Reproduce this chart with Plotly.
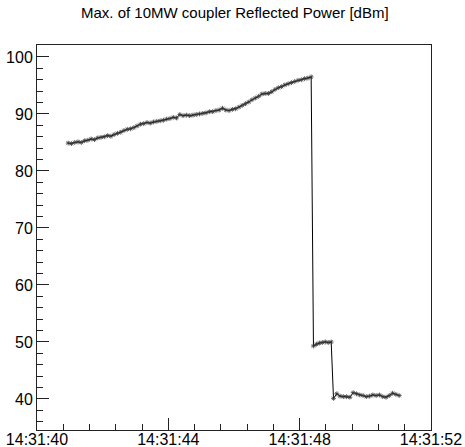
import plotly.graph_objects as go

# seconds after 14:31:40 for every sample
t_sec = [
    40.95, 41.05, 41.15, 41.25, 41.35, 41.45, 41.55, 41.65, 41.75, 41.85,
    41.95, 42.05, 42.15, 42.25, 42.35, 42.45, 42.55, 42.65, 42.75, 42.85,
    42.95, 43.05, 43.15, 43.25, 43.35, 43.45, 43.55, 43.65, 43.75, 43.85,
    43.95, 44.05, 44.15, 44.25, 44.35, 44.45, 44.55, 44.65, 44.75, 44.85,
    44.95, 45.05, 45.15, 45.25, 45.35, 45.45, 45.55, 45.65, 45.75, 45.85,
    45.95, 46.05, 46.15, 46.25, 46.35, 46.45, 46.55, 46.65, 46.75, 46.85,
    46.95, 47.05, 47.15, 47.25, 47.35, 47.45, 47.55, 47.65, 47.75, 47.85,
    47.95, 48.05, 48.15, 48.25, 48.35,
    48.42, 48.51, 48.60, 48.69, 48.78, 48.87, 48.96,
    49.03, 49.13, 49.23, 49.33, 49.43, 49.53, 49.63, 49.73, 49.83, 49.93,
    50.03, 50.13, 50.23, 50.33, 50.43, 50.53, 50.63, 50.73, 50.83, 50.93,
    51.03,
]

power_dbm = [
    84.9, 84.8, 85.0, 85.1, 85.0, 85.3, 85.4, 85.6, 85.5, 85.8,
    85.9, 86.0, 86.2, 86.1, 86.4, 86.6, 86.8, 87.1, 87.3, 87.4,
    87.6, 87.9, 88.2, 88.3, 88.5, 88.4, 88.6, 88.7, 88.8, 88.9,
    89.1, 89.2, 89.4, 89.3, 89.9, 89.7, 89.8, 89.7, 89.8, 89.9,
    90.0, 90.1, 90.2, 90.4, 90.4, 90.6, 90.7, 91.0, 90.7, 90.6,
    90.8, 90.9, 91.2, 91.5, 91.8, 92.1, 92.5, 92.8, 93.1, 93.5,
    93.6, 93.6, 93.9, 94.3, 94.6, 94.8, 95.1, 95.3, 95.5, 95.7,
    95.9, 96.0, 96.2, 96.3, 96.5,
    49.3, 49.6, 49.8, 49.9, 50.0, 49.9, 50.0,
    40.1, 40.9, 40.5, 40.4, 40.4, 40.3, 41.1, 40.9, 40.7, 40.6,
    40.4, 40.5, 40.7, 40.6, 40.7, 40.4, 40.3, 40.6, 41.0, 40.8,
    40.6,
]

date_prefix = "2023-01-01 14:31:"
times = [f"{date_prefix}{s:06.3f}" for s in t_sec]

title_text = "Max. of 10MW coupler Reflected Power [dBm]"
x_range = [date_prefix + "40", date_prefix + "52"]
y_range = [34.55, 102.1]

FONT = "Liberation Sans, Arial, Helvetica, sans-serif"

fig = go.Figure()
fig.add_trace(go.Scatter(
    x=times, y=power_dbm, mode="lines+markers",
    line=dict(color="black", width=1),
    marker=dict(symbol="asterisk-open", size=4, color="#333333",
                line=dict(color="#333333", width=0.8)),
    showlegend=False,
))

axis_common = dict(
    showgrid=False, zeroline=False, showline=True, mirror=True,
    linecolor="#222222", linewidth=1, automargin=False,
    ticks="inside", ticklen=12, tickcolor="#222222", tickwidth=1,
    tickfont=dict(family=FONT, size=16, color="black"),
)

fig.update_layout(
    width=465, height=447,
    margin=dict(l=37, r=34, t=45, b=17, autoexpand=False),
    paper_bgcolor="white", plot_bgcolor="white",
    title=dict(text=title_text, x=0.505, xanchor="center", y=0.971, yanchor="middle",
               font=dict(family=FONT, size=15, color="black")),
    xaxis=dict(
        type="date", range=x_range, tick0=date_prefix + "40",
        dtick=4000, tickformat="%H:%M:%S", ticklabelstandoff=-5,
        minor=dict(dtick=800, ticks="inside", ticklen=6, tickcolor="#222222", showgrid=False),
        **axis_common,
    ),
    yaxis=dict(
        range=y_range, dtick=10, tick0=0,
        minor=dict(dtick=2, ticks="inside", ticklen=6, tickcolor="#222222", showgrid=False),
        **axis_common,
    ),
)

fig.write_html("out.html")
